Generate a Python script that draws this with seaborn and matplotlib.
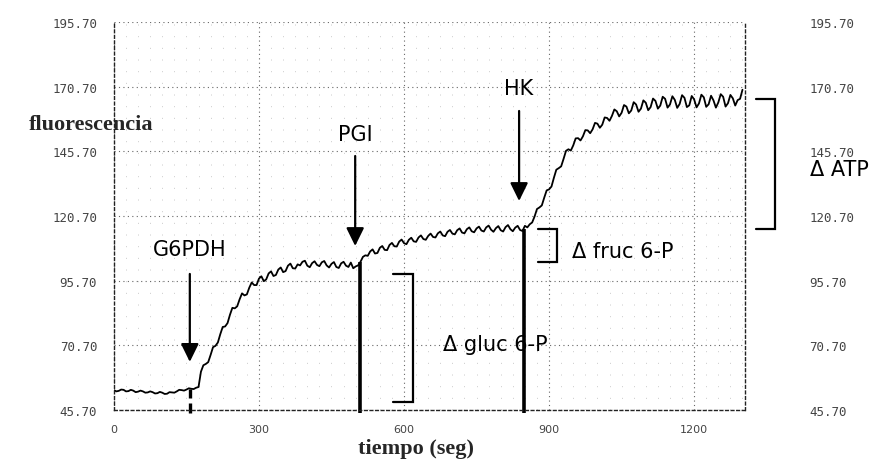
import numpy as np
import pandas as pd
import matplotlib
matplotlib.use("Agg")
import matplotlib.pyplot as plt
import matplotlib.transforms as mtransforms
import seaborn as sns

# Fluorescence trace, sampled every 5 s (0 .. 1300 s)
tiempo = list(range(0, 1305, 5))
fluorescencia = [
    53.4, 52.9, 53.1, 53.6, 53.5, 52.9, 53.0, 53.5, 53.2, 52.6,
    52.8, 53.2, 52.9, 52.4, 52.5, 52.9, 52.6, 52.1, 52.2, 52.7,
    52.4, 51.9, 52.0, 52.6, 52.5, 52.4, 52.9, 53.5, 53.4, 53.2,
    53.6, 54.1, 53.9, 53.8, 54.3, 54.6, 60.5, 63.0, 63.5, 64.2,
    67.0, 70.0, 70.5, 71.8, 75.0, 77.8, 78.0, 79.3, 82.5, 85.2,
    85.0, 85.8, 88.5, 90.8, 90.0, 90.4, 93.0, 95.0, 94.0, 94.0,
    96.5, 97.4, 95.5, 96.2, 98.5, 99.3, 97.5, 97.9, 100.0, 100.8,
    99.0, 99.4, 101.5, 102.3, 100.5, 100.4, 102.0, 101.6, 103.0, 103.4,
    101.5, 100.9, 102.5, 103.2, 101.8, 101.3, 102.8, 103.3, 101.6, 100.8,
    102.2, 102.9, 101.0, 100.6, 102.4, 103.0, 101.5, 101.0, 102.7, 100.5,
    101.2, 101.6, 103.0, 104.9, 105.5, 105.3, 107.0, 107.8, 106.2, 106.4,
    108.4, 109.1, 107.6, 107.5, 109.5, 110.3, 109.0, 108.9, 110.8, 111.6,
    110.2, 109.8, 111.5, 112.3, 110.9, 110.7, 112.4, 113.2, 111.8, 111.5,
    113.0, 113.9, 112.6, 112.4, 114.0, 114.7, 113.2, 112.9, 114.6, 115.3,
    113.9, 113.6, 115.2, 115.9, 114.3, 114.0, 115.6, 116.3, 114.8, 114.4,
    115.9, 116.6, 115.1, 114.7, 116.3, 117.0, 115.4, 114.6, 116.0, 116.8,
    115.2, 114.7, 116.4, 117.2, 115.6, 114.8, 116.2, 116.9, 115.3, 114.9,
    116.9, 116.3, 117.5, 118.2, 120.5, 123.4, 124.0, 124.8, 127.8, 130.6,
    131.0, 132.1, 135.5, 138.6, 139.2, 139.9, 142.8, 145.9, 146.5, 146.0,
    148.0, 150.7, 150.8, 149.9, 151.5, 153.9, 153.8, 152.7, 154.2, 156.7,
    156.4, 154.8, 156.0, 158.8, 158.6, 157.5, 159.4, 161.9, 161.2, 159.2,
    160.6, 163.6, 163.0, 160.4, 161.5, 164.7, 163.8, 161.0, 162.2, 165.4,
    164.5, 161.6, 162.8, 166.1, 165.2, 162.2, 163.4, 166.8, 166.0, 162.6,
    163.8, 167.0, 165.6, 162.5, 164.0, 167.4, 166.4, 162.8, 163.5, 167.1,
    165.8, 162.7, 164.2, 167.6, 166.6, 162.9, 163.9, 167.2, 165.4, 162.6,
    164.6, 167.8, 166.8, 163.0, 164.3, 167.5, 166.2, 163.4, 165.5, 166.0,
    169.5,
]

# Enzyme additions: name, time of addition (s), arrow top / tip, label level
enzimas = ["G6PDH", "PGI", "HK"]
t_adicion = [157, 499, 838]
flecha_inicio = [98.3, 143.9, 161.3]
flecha_punta = [64.3, 109.1, 126.5]
etiqueta_y = [107.9, 152.4, 170.2]

# Vertical reference lines at the start of each reaction step
t_marca = [157, 509, 848]
marca_tope = [54.0, 102.9, 115.7]

# Measured increments (bracket extents) and their labels
deltas = ["Δ gluc 6-P", "Δ fruc 6-P", "Δ ATP"]
delta_bajo = [48.8, 102.9, 115.7]
delta_alto = [98.3, 115.7, 165.9]
delta_t = [618, 917, 1368]
delta_texto_t = [681, 948, 1440]
delta_texto_y = [71.2, 107.2, 138.8]

x_ticks = [0, 300, 600, 900, 1200]
x_labels = ["0", "300", "600", "900", "1200"]
y_ticks = [45.70, 70.70, 95.70, 120.70, 145.70, 170.70, 195.70]
y_labels = ["45.70", "70.70", "95.70", "120.70", "145.70", "170.70", "195.70"]

sns.set_theme(style="white")
plt.rcParams["font.family"] = ["DejaVu Sans"]

df = pd.DataFrame({"tiempo": tiempo, "fluorescencia": fluorescencia})

fig = plt.figure(figsize=(8.83, 4.60), dpi=100)
ax = fig.add_axes([0.129, 0.1065, 0.7146, 0.8435])

ax.set_xlim(0, 1305)
ax.set_ylim(45.70, 195.70)

# sparse dotted background grid
ax.set_xticks(x_ticks)
ax.set_xticks(np.arange(0, 1305, 25), minor=True)
ax.set_yticks(y_ticks)
ax.grid(which="major", axis="both", color="#666666", linestyle=(0, (1, 3)), linewidth=0.8)
ax.grid(which="minor", axis="x", color="#888888", linestyle=(0, (1, 11)), linewidth=0.7, alpha=0.45)

for side in ["left", "right", "bottom"]:
    ax.spines[side].set_visible(True)
    ax.spines[side].set_color("#222222")
    ax.spines[side].set_linestyle((0, (2, 2)))
    ax.spines[side].set_linewidth(1.0)
ax.spines["top"].set_visible(False)

sns.lineplot(data=df, x="tiempo", y="fluorescencia", ax=ax, color="black", linewidth=1.3)

# reaction-start markers
ax.vlines(t_marca[1:], 44.5, marca_tope[1:], color="black", linewidth=2.6, clip_on=False)
ax.vlines(t_marca[:1], 44.5, marca_tope[:1], color="black", linewidth=2.4,
          linestyles=(0, (3, 1.5)), clip_on=False)

# enzyme addition arrows
for nombre, t, y0, y1, ly in zip(enzimas, t_adicion, flecha_inicio, flecha_punta, etiqueta_y):
    ax.annotate("", xy=(t, y1), xytext=(t, y0),
                arrowprops=dict(arrowstyle="-|>,head_width=0.27,head_length=0.55",
                                color="black", lw=1.6, mutation_scale=20,
                                shrinkA=0, shrinkB=0))
    ax.text(t, ly, nombre, ha="center", va="center", fontsize=15, color="black")

# increment brackets
brazo = 20
for lab, lo, hi, tb, tx, ty in zip(deltas, delta_bajo, delta_alto, delta_t, delta_texto_t, delta_texto_y):
    ax.plot([tb - 2 * brazo, tb, tb, tb - 2 * brazo], [hi, hi, lo, lo],
            color="black", linewidth=1.6, clip_on=False, solid_joinstyle="miter")
    ax.text(tx, ty, lab, ha="left", va="center", fontsize=15, color="black", clip_on=False)

ax.set_xticklabels(x_labels)
ax.set_yticklabels(y_labels)
ax.tick_params(axis="x", which="major", direction="out", length=8, width=1.0,
               color="#333333", pad=2, labelsize=8, labelcolor="#444444")
ax.tick_params(axis="x", which="minor", length=0)
ax.tick_params(axis="y", which="major", length=0, labelsize=9, labelcolor="#444444",
               left=False, right=False, labelleft=True, labelright=True, pad=12)

# monospaced value labels, with a wider gap on the right-hand side
off = mtransforms.ScaledTranslation(48 / 100, 0, fig.dpi_scale_trans)
for tk in ax.yaxis.get_major_ticks():
    tk.label1.set_fontfamily("DejaVu Sans Mono")
    tk.label2.set_fontfamily("DejaVu Sans Mono")
    tk.label2.set_transform(tk.label2.get_transform() + off)

ax.set_xlabel("tiempo (seg)", fontsize=16, fontweight="bold", family="Liberation Serif")
ax.xaxis.label.set_va("center")
ax.xaxis.set_label_coords(0.479, -0.098)
ax.set_ylabel("fluorescencia", fontsize=16, fontweight="bold", family="Liberation Serif",
              rotation=0, ha="center", va="center")
ax.yaxis.set_label_coords(-0.036, 0.737)

fig.savefig("out.png", dpi=100)
